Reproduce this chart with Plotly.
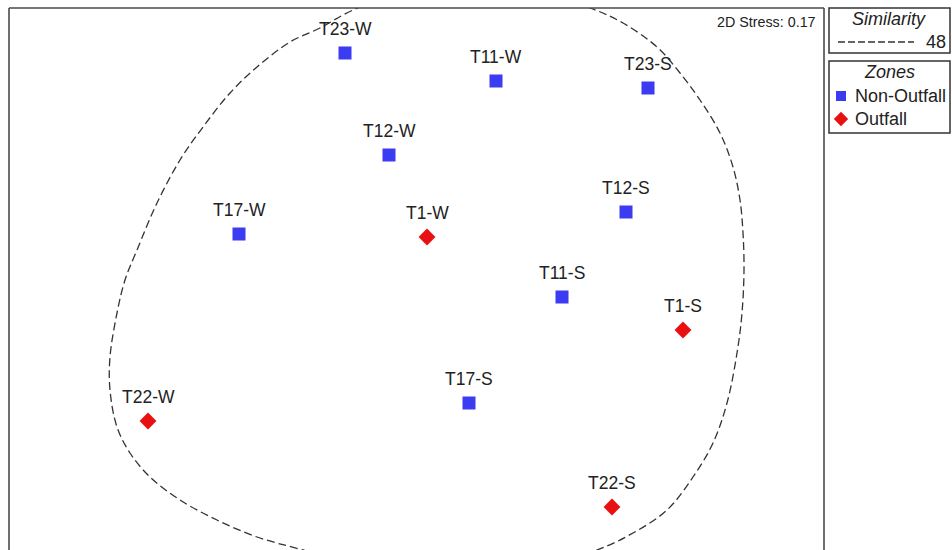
import plotly.graph_objects as go

# nMDS ordination: sample labels, coordinates and zones
samples = ["T23-W", "T11-W", "T23-S", "T12-W", "T12-S", "T17-W",
           "T1-W", "T11-S", "T1-S", "T17-S", "T22-W", "T22-S"]
mds_x = [-0.715, 0.795, 2.315, -0.275, 2.095, -1.775,
         0.105, 1.455, 2.665, 0.525, -2.685, 1.955]
mds_y = [2.26, 1.98, 1.91, 1.24, 0.67, 0.45,
         0.42, -0.18, -0.51, -1.24, -1.42, -2.28]
zones = ["Non-Outfall", "Non-Outfall", "Non-Outfall", "Non-Outfall", "Non-Outfall", "Non-Outfall",
         "Outfall", "Non-Outfall", "Outfall", "Non-Outfall", "Outfall", "Outfall"]

# 48% similarity contour (closed outline)
contour_px_x = [400, 470, 540, 590, 623, 657, 680, 700, 720, 733, 740, 743, 744, 742, 737,
                727, 713, 693, 667, 633, 597, 530, 450, 370, 303, 257, 217, 180, 150, 130,
                117, 110, 110, 117, 125, 137, 157, 180, 203, 230, 257, 290, 320, 353, 400]
contour_px_y = [-6, -13, -6, 8, 23, 47, 73, 100, 133, 167, 200, 233, 270, 313, 353,
                403, 443, 477, 510, 533, 550, 568, 575, 568, 550, 537, 520, 500, 477, 453,
                427, 390, 357, 313, 280, 250, 203, 160, 127, 93, 67, 42, 28, 10, -6]
contour_x = [(v - 416.5) / 100 for v in contour_px_x]
contour_y = [(279 - v) / 100 for v in contour_px_y]

stress_text = "2D Stress: 0.17"
similarity_level = "48"

zone_style = {
    "Non-Outfall": dict(symbol="square", color="#3b3bf2", key_size=10),
    "Outfall": dict(symbol="diamond", color="#e81010", key_size=11),
}

FONT = "Arial, 'Liberation Sans', sans-serif"
W, H = 952, 550

fig = go.Figure()

# similarity contour
fig.add_trace(go.Scatter(
    x=contour_x, y=contour_y, mode="lines",
    line=dict(color="#333333", width=1.3, dash="8px,4px", shape="spline", smoothing=1.0),
    hoverinfo="skip", showlegend=False, xaxis="x", yaxis="y",
))

# sample points by zone
for zone, st in zone_style.items():
    xs = [x for x, z in zip(mds_x, zones) if z == zone]
    ys = [y for y, z in zip(mds_y, zones) if z == zone]
    fig.add_trace(go.Scatter(
        x=xs, y=ys, mode="markers",
        marker=dict(symbol=st["symbol"], size=13, color=st["color"], opacity=1, line=dict(width=0)),
        showlegend=False, xaxis="x", yaxis="y",
    ))

annotations = []
for s, x, y in zip(samples, mds_x, mds_y):
    annotations.append(dict(
        x=x, y=y, xref="x", yref="y", text=s, showarrow=False,
        yshift=24, xanchor="center", yanchor="middle",
        font=dict(family=FONT, size=17.5, color="#222222"),
    ))

annotations.append(dict(
    x=818, y=22, xref="x2", yref="y2", text=stress_text, showarrow=False,
    xanchor="right", yanchor="middle", font=dict(family=FONT, size=14.3, color="#222222"),
))

# legend panels (pixel coordinates on an overlay axis)
legend_font = dict(family=FONT, size=18, color="#222222")
annotations += [
    dict(x=889, y=19, xref="x2", yref="y2", text="<i>Similarity</i>", showarrow=False,
         xanchor="center", yanchor="middle", font=legend_font),
    dict(x=948, y=42, xref="x2", yref="y2", text=similarity_level, showarrow=False,
         xanchor="right", yanchor="middle", font=legend_font),
    dict(x=889, y=72, xref="x2", yref="y2", text="<i>Zones</i>", showarrow=False,
         xanchor="center", yanchor="middle", font=legend_font),
]

key_rows = {"Non-Outfall": 96, "Outfall": 119}
for zone, row_y in key_rows.items():
    st = zone_style[zone]
    fig.add_trace(go.Scatter(
        x=[841], y=[row_y], mode="markers",
        marker=dict(symbol=st["symbol"], size=st["key_size"], color=st["color"],
                    opacity=1, line=dict(width=0)),
        showlegend=False, hoverinfo="skip", xaxis="x2", yaxis="y2",
    ))
    annotations.append(dict(
        x=853, y=row_y, xref="x2", yref="y2", text=zone, showarrow=False,
        xanchor="left", yanchor="middle", font=legend_font,
    ))

frame = dict(color="#4a4a4a", width=1.6)
shapes = [
    # plot frame: left, top, right
    dict(type="line", xref="x2", yref="y2", x0=9, x1=9, y0=8, y1=552, line=frame),
    dict(type="line", xref="x2", yref="y2", x0=9, x1=824, y0=8, y1=8, line=frame),
    dict(type="line", xref="x2", yref="y2", x0=824, x1=824, y0=8, y1=552, line=frame),
    # legend boxes
    dict(type="rect", xref="x2", yref="y2", x0=829, x1=950, y0=8, y1=53,
         line=dict(color="#333333", width=1.5)),
    dict(type="rect", xref="x2", yref="y2", x0=829, x1=950, y0=61, y1=133,
         line=dict(color="#333333", width=1.5)),
    dict(type="line", xref="x2", yref="y2", x0=838, x1=914, y0=42, y1=42,
         line=dict(color="#333333", width=1.3, dash="7px,3px")),
]

fig.update_layout(
    width=W, height=H, margin=dict(l=0, r=0, t=0, b=0),
    paper_bgcolor="white", plot_bgcolor="rgba(0,0,0,0)",
    xaxis=dict(domain=[9 / W, 824 / W], range=[-4.075, 4.075], visible=False, fixedrange=True),
    yaxis=dict(domain=[0, (H - 8) / H], range=[-2.71, 2.71], visible=False, fixedrange=True),
    xaxis2=dict(domain=[0, 1], range=[0, W], visible=False, anchor="y2", fixedrange=True),
    yaxis2=dict(domain=[0, 1], range=[H, 0], visible=False, anchor="x2", fixedrange=True),
    annotations=annotations, shapes=shapes, showlegend=False,
)

fig.write_html("out.html", config={"displayModeBar": False})
